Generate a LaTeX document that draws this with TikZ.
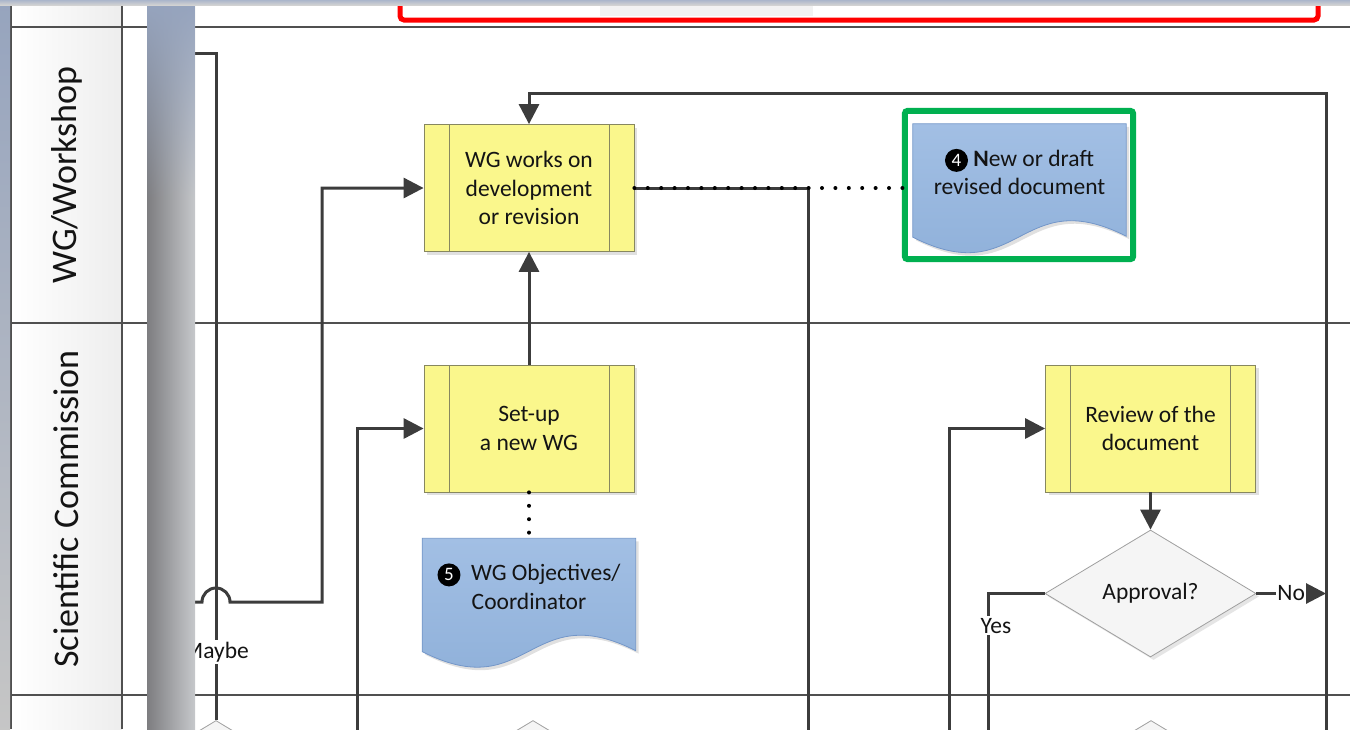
\documentclass[tikz,border=0pt]{standalone}
\usepackage{fontspec}
\setmainfont{Carlito}
\usetikzlibrary{arrows.meta,shapes.geometric,shadows,fadings}
\definecolor{procfill}{RGB}{250,247,140}
\definecolor{procedge}{RGB}{135,135,95}
\definecolor{doctop}{RGB}{162,191,228}
\definecolor{docbot}{RGB}{140,174,216}
\definecolor{docedge}{RGB}{115,150,200}
\definecolor{linegray}{RGB}{60,60,60}
\definecolor{lanegray}{RGB}{80,80,80}
\definecolor{greenframe}{RGB}{0,176,80}
\definecolor{chromeblue}{RGB}{150,164,190}
\definecolor{banddark}{RGB}{125,125,128}
\definecolor{bandlight}{RGB}{198,200,203}

% black disc with a white number
\newcommand{\badge}[1]{\tikz[baseline=(bd.base)]\node[circle,fill=black,text=white,inner sep=0pt,minimum size=23pt,font=\fontsize{19}{19}\selectfont](bd){#1};}
% wavy document outline behind a node
\newcommand{\docshape}[1]{%
  \path[draw=docedge,line width=0.8pt,top color=doctop,bottom color=docbot,
        drop shadow={shadow xshift=3pt,shadow yshift=-3pt,fill=black!30,opacity=.4}]
    (#1.north west) -- (#1.north east) -- ([yshift=16pt]#1.south east)
    .. controls ([yshift=70pt]#1.south) and ([yshift=-39pt]#1.south) .. ([yshift=15pt]#1.south west) -- cycle;}

\begin{document}
\begin{tikzpicture}[x=1pt,y=-1pt,font=\fontsize{23.5}{28.5}\selectfont,text=black!92,
  lane/.style={draw=lanegray,line width=2.8pt},
  conn/.style={draw=linegray,line width=3pt},
  flow/.style={conn,-{Triangle[length=20pt,width=20pt]}},
  dotline/.style={draw=black,line width=4pt,line cap=round,dash pattern=on 0pt off 13.4pt},
  proc/.style={rectangle,draw=procedge,line width=0.8pt,fill=procfill,align=center,
    minimum width=210pt,minimum height=127pt,
    drop shadow={shadow xshift=3pt,shadow yshift=-3pt,fill=black!30,opacity=.4},
    path picture={\draw[procedge,line width=0.8pt]
      ([xshift=25pt]path picture bounding box.north west) -- ([xshift=25pt]path picture bounding box.south west)
      ([xshift=-25pt]path picture bounding box.north east) -- ([xshift=-25pt]path picture bounding box.south east);}},
  docbox/.style={rectangle,minimum width=213pt,minimum height=128pt,inner sep=0pt},
  decision/.style={diamond,draw=gray!75,line width=0.8pt,fill=gray!8,minimum width=211pt,minimum height=127pt,inner sep=0pt,
    drop shadow={shadow xshift=3pt,shadow yshift=-3pt,fill=black!25,opacity=.4}},
  lanetitle/.style={rotate=90,font=\fontsize{36}{42}\selectfont},
  tag/.style={fill=white,inner sep=2pt}]
\useasboundingbox (0,0) rectangle (1350,729);
\clip (0,0) rectangle (1350,729);

% lanes
\shade[left color=white,right color=gray!14] (11,5) rectangle (122,729);
\foreach \y in {27,323,695}{
    \draw[lane] (11,\y)--(1350,\y);
}
\foreach \x in {11,122}{
    \draw[lane] (\x,0)--(\x,729);
}
\node[lanetitle] (wglane) at (67,175) {WG/Workshop};
\node[lanetitle] (sclane) at (66,509) {Scientific Commission};

% lane above, cut off
\fill[gray!10] (600,0) rectangle (813,16);
\draw[red,line width=5pt,rounded corners=4pt] (400,-30) rectangle (1318,20);

% steps
\node[proc] (wg) at (529,188) {WG works on\\development\\or revision};
\node[proc] (setup) at (529,428.5) {Set-up\\a new WG};
\node[proc] (review) at (1150.5,428.5) {Review of the\\document};
\node[decision] (approval) at (1150.5,593.5) {Approval?};
\node[decision] (decA) at (216,784) {};
\node[decision] (decB) at (533,784) {};
\node[decision] (decC) at (1151,784) {};

% documents
\node[docbox] (newdoc) at (1019.5,188) {};
\docshape{newdoc}
\node[align=center] (newdoctxt) at ([yshift=16pt]newdoc.center) {\badge{4} \textbf{N}ew or draft\\revised document};
\draw[greenframe,line width=6pt,rounded corners=3pt] ([shift={(-8,-13)}]newdoc.north west) rectangle ([shift={(7,7)}]newdoc.south east);
\node[docbox] (wgobj) at (529,602.5) {};
\docshape{wgobj}
\node[align=center] (wgobjtxt) at ([yshift=16pt]wgobj.center) {\badge{5}\ \ WG Objectives/\\Coordinator};

% connectors
\coordinate (rightbus) at (1326,740);
\coordinate (looptop) at (1326,93);
\coordinate (devbus) at (808,740);
\coordinate (setupbus) at (357,740);
\coordinate (reviewbus) at (949,740);
\coordinate (yesbus) at (988,740);
\coordinate (maybestub) at (165,53);
\coordinate (hopstub) at (165,602);

\draw[flow] (rightbus) -- (looptop) -| (wg.north);
\draw[conn] (wg.east) -| (devbus);
\draw[dotline] (wg.east) -- (newdoc.west);
\draw[flow] (setup) -- (wg);
\draw[dotline] (setup.south) -- (wgobj.north);
\draw[conn] (decA.north) |- node[tag,pos=0.051] (maybelbl) {Maybe} (maybestub);
\draw[flow] (hopstub) -- ++(37,0) arc[start angle=180,end angle=360,radius=14] -- ++(92,0) |- (wg.west);
\draw[flow] (setupbus) |- (setup.west);
\draw[flow] (reviewbus) |- (review.west);
\draw[flow] (review) -- (approval);
\draw[conn] (approval.west) -| node[tag,pos=0.61,xshift=8pt] (yeslbl) {Yes} (yesbus);
\draw[flow] (approval.east) -- node[tag,inner sep=1pt] (nolbl) {No} (approval.east -| rightbus);

% window chrome over the drawing
\shade[left color=banddark,right color=bandlight] (147,5) rectangle (195,729);
\fill[chromeblue,path fading=south] (147,5) rectangle (195,200);
\shade[top color=chromeblue,bottom color=gray!45] (0,0) rectangle (10,729);
\shade[top color=chromeblue!80,bottom color=gray!35] (0,0) rectangle (1350,5);
\end{tikzpicture}
\end{document}
